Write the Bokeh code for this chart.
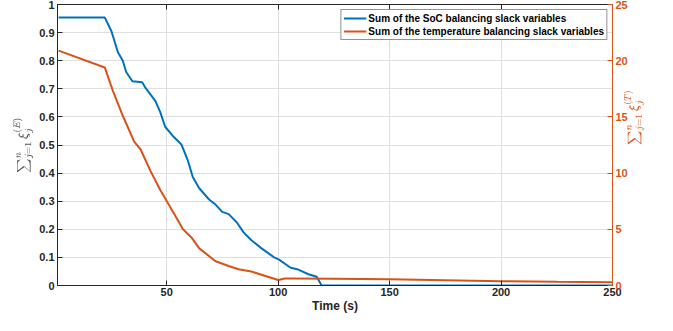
import math
from bokeh.plotting import figure
from bokeh.models import Range1d, LinearAxis, FixedTicker, Legend, LegendItem
from bokeh.embed import file_html
from bokeh.resources import INLINE

# SoC balancing slack variables (left axis)
t_soc = [1.5, 22.2, 25.2, 28.1, 30.3, 31.8, 34.6, 39.0, 40.5, 44.9, 47.1, 49.3, 53.0, 56.6,
         59.5, 61.7, 64.6, 69.0, 71.9, 74.9, 77.8, 81.4, 84.4, 88.0, 92.4, 98.2, 100.4,
         105.6, 108.5, 113.6, 117.3, 119.5, 150, 200, 250]
v_soc = [0.954, 0.954, 0.905, 0.830, 0.800, 0.760, 0.727, 0.723, 0.703, 0.657, 0.617, 0.565,
         0.530, 0.502, 0.444, 0.386, 0.346, 0.306, 0.288, 0.262, 0.254, 0.225, 0.190, 0.161,
         0.133, 0.100, 0.092, 0.063, 0.058, 0.040, 0.031, 0.0, 0.0, 0.0, 0.0]

# Temperature balancing slack variables (right axis)
t_tmp = [1.5, 22.2, 25.9, 30.3, 35.4, 38.3, 42.7, 47.1, 53.0, 57.3, 61.0, 64.6, 71.9, 77.8,
         82.2, 88.0, 100.0, 103.0, 105.6, 125, 150, 175, 200, 225, 250]
v_tmp = [20.9, 19.4, 17.3, 15.1, 12.8, 12.1, 10.2, 8.5, 6.5, 5.0, 4.3, 3.3, 2.16, 1.73,
         1.44, 1.24, 0.49, 0.62, 0.63, 0.6, 0.55, 0.47, 0.38, 0.33, 0.3]

x_ticks = [50, 100, 150, 200, 250]
y_left_ticks = [0, 0.1, 0.2, 0.3, 0.4, 0.5, 0.6, 0.7, 0.8, 0.9, 1]
y_right_ticks = [0, 5, 10, 15, 20, 25]

BLUE = "#0072BD"
ORANGE = "#D95319"
DARK = "#262626"
FONT = "Liberation Sans"

p = figure(width=657, height=315, output_backend="svg", toolbar_location=None,
           x_range=Range1d(1, 250), y_range=Range1d(0, 1),
           min_border_left=57, min_border_right=34, min_border_top=4, min_border_bottom=25)
p.extra_y_ranges = {"temp": Range1d(0, 25)}
p.outline_line_color = DARK
p.background_fill_color = "white"

r1 = p.line(t_soc, v_soc, line_color=BLUE, line_width=2)
r2 = p.line(t_tmp, v_tmp, line_color=ORANGE, line_width=2, y_range_name="temp")

# axes
xa = p.xaxis[0]
xa.ticker = FixedTicker(ticks=x_ticks)
xa.axis_label = "Time (s)"
ya = p.yaxis[0]
ya.ticker = FixedTicker(ticks=y_left_ticks)
ya.axis_label = r"\(\sum_{j=1}^{n} \xi_j^{(E)}\)"
for ax in (xa, ya):
    ax.axis_line_color = DARK
    ax.major_tick_line_color = DARK
    ax.major_tick_in = 5
    ax.major_tick_out = 0
    ax.minor_tick_line_color = None
    ax.major_label_text_font = FONT
    ax.major_label_text_font_style = "bold"
    ax.major_label_text_font_size = "11px"
    ax.major_label_text_color = DARK
    ax.axis_label_text_color = DARK
ya.axis_label_text_color = "#555555"
ya.axis_label_text_font_size = "10px"
ya.axis_label_standoff = 3
ya.major_label_standoff = 3
xa.axis_label_text_font = FONT
xa.axis_label_text_font_style = "bold"
xa.axis_label_text_font_size = "12px"
xa.axis_label_standoff = 0
xa.major_label_standoff = 2

ra = LinearAxis(y_range_name="temp", ticker=FixedTicker(ticks=y_right_ticks))
ra.axis_line_color = ORANGE
ra.major_tick_line_color = ORANGE
ra.major_tick_in = 5
ra.major_tick_out = 0
ra.minor_tick_line_color = None
ra.major_label_text_font = FONT
ra.major_label_text_font_style = "bold"
ra.major_label_text_font_size = "11px"
ra.major_label_text_color = ORANGE
ra.major_label_standoff = 3
ra.axis_label = r"\(\sum_{j=1}^{n} \xi_j^{(T)}\)"
ra.axis_label_text_color = ORANGE
ra.axis_label_text_font_size = "10px"
ra.axis_label_standoff = 3
ra.axis_label_orientation = math.pi / 2
p.add_layout(ra, "right")

ta = LinearAxis(ticker=FixedTicker(ticks=x_ticks))
ta.axis_line_color = DARK
ta.major_tick_line_color = DARK
ta.major_tick_in = 5
ta.major_tick_out = 0
ta.minor_tick_line_color = None
ta.major_label_text_font_size = "0px"
ta.major_label_standoff = 0
ta.axis_label_standoff = 0
p.add_layout(ta, "above")

p.xgrid.ticker = FixedTicker(ticks=x_ticks)
p.ygrid.ticker = FixedTicker(ticks=y_left_ticks)
for g in (p.xgrid[0], p.ygrid[0]):
    g.grid_line_color = "#dfdfdf"
    g.grid_line_width = 1

legend = Legend(items=[
    LegendItem(label="Sum of the SoC balancing slack variables", renderers=[r1]),
    LegendItem(label="Sum of the temperature balancing slack variables", renderers=[r2]),
], location="top_right")
legend.label_text_font = FONT
legend.label_text_font_style = "bold"
legend.label_text_font_size = "10px"
legend.label_text_color = "black"
legend.label_height = 12
legend.glyph_height = 12
legend.glyph_width = 23
legend.spacing = 1
legend.padding = 2
legend.margin = 5
legend.label_standoff = 2
legend.border_line_color = DARK
legend.border_line_width = 1
legend.background_fill_alpha = 1
p.add_layout(legend)

open("out.html", "w").write(file_html(p, INLINE))
